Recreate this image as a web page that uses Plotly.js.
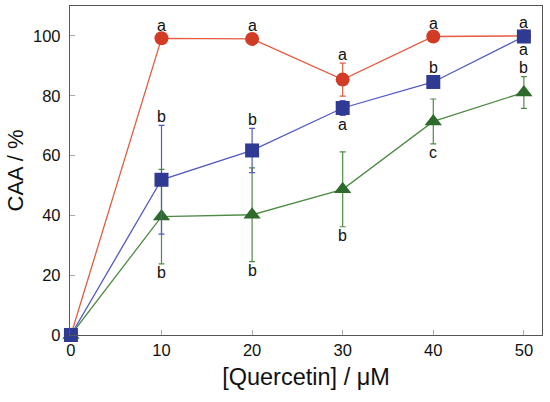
<!DOCTYPE html>
<html><head><meta charset="utf-8">
<script src="https://cdn.plot.ly/plotly-3.0.1.min.js"></script>
<style>body{margin:0;background:#fff}#c{width:550px;height:402px}</style>
</head><body><div id="c"></div>
<script>
var conc = [0, 10, 20, 30, 40, 50];
var redVals = [0, 99.2, 99.0, 85.4, 99.8, 100];
var redErr = [0, 0, 0, 5.5, 0, 0];
var redLetters = ["", "a", "a", "a", "a", "a"];
var blueVals = [0, 51.9, 61.7, 75.9, 84.6, 99.8];
var blueErr = [0, 18.2, 7.4, 2.5, 0.6, 0];
var blueLetters = ["", "b", "b", "a", "b", "a"];
var blueLetterSide = [0, 1, 1, -1, 1, -1];
var greenVals = [0, 39.6, 40.2, 48.7, 71.4, 81.1];
var greenErr = [0, 15.8, 15.7, 12.5, 7.5, 5.3];
var greenLetters = ["", "b", "b", "b", "c", "b"];
var greenLetterSide = [0, -1, -1, -1, -1, 1];

function tr(y, e, col, lineCol, sym, sz) {
  return {x: conc, y: y, type: 'scatter', mode: 'lines+markers', cliponaxis: false,
    line: {color: lineCol, width: 1.3},
    marker: {symbol: sym, size: sz, color: col, line: {width: 0}},
    error_y: {type: 'data', array: e, visible: true, color: lineCol, thickness: 1.2, width: 3}};
}
var traces = [
  tr(greenVals, greenErr, '#2d6a2c', '#4e8c45', 'triangle-up', 15),
  tr(redVals, redErr, '#d23c26', '#e45b40', 'circle', 14),
  tr(blueVals, blueErr, '#2f3b93', '#5259c2', 'square', 14)
];

var ann = [];
function addLetters(vals, errs, letters, sides) {
  for (var i = 0; i < conc.length; i++) {
    if (!letters[i]) continue;
    var s = sides[i];
    var e = errs[i];
    var gap = e > 1 ? 9 : 13;
    ann.push({x: conc[i], y: vals[i] + s * e, xref: 'x', yref: 'y', text: letters[i],
      showarrow: false, yanchor: 'middle', yshift: s * gap,
      font: {family: 'Liberation Sans, Arial, sans-serif', size: 16, color: '#111'}});
  }
}
addLetters(redVals, redErr, redLetters, [0,1,1,1,1,1]);
addLetters(blueVals, blueErr, blueLetters, blueLetterSide);
addLetters(greenVals, greenErr, greenLetters, greenLetterSide);

var layout = {
  width: 550, height: 402,
  margin: {l: 70, r: 8, t: 6, b: 67},
  paper_bgcolor: '#fff', plot_bgcolor: '#fff',
  showlegend: false,
  font: {family: 'Liberation Sans, Arial, sans-serif', color: '#111'},
  xaxis: {range: [-0.1, 52], tickvals: conc, ticks: 'inside', ticklen: 5, tickcolor: '#aaa',
    showgrid: false, zeroline: false, showline: true, linecolor: '#555', linewidth: 1.2, mirror: true,
    tickfont: {size: 16.5}, title: {text: '[Quercetin] / μM', font: {size: 23.5}, standoff: 10}},
  yaxis: {range: [0, 110], tickvals: [0, 20, 40, 60, 80, 100], ticks: 'inside', ticklen: 5, tickcolor: '#aaa',
    ticklabelstandoff: 5,
    showgrid: false, zeroline: false, showline: true, linecolor: '#555', linewidth: 1.2, mirror: true,
    tickfont: {size: 16.5}, title: {text: 'CAA / %', font: {size: 22}, standoff: 3}},
  annotations: ann
};
Plotly.newPlot('c', traces, layout, {displayModeBar: false, staticPlot: true});
</script></body></html>
